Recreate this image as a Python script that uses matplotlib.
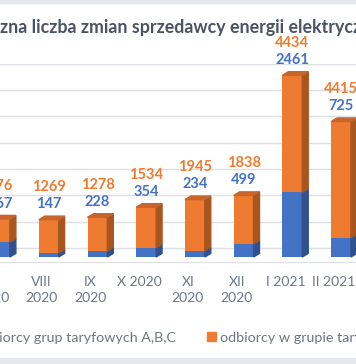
import numpy as np
import matplotlib.pyplot as plt
from matplotlib.patches import Polygon, Rectangle
from matplotlib.transforms import ScaledTranslation

# monthly number of supplier switches
categories = ["VII\n2020", "VIII\n2020", "IX\n2020", "X 2020", "XI\n2020",
              "XII\n2020", "I 2021", "II 2021"]
abc_values = [567, 147, 228, 354, 234, 499, 2461, 725]
g_values = [876, 1269, 1278, 1534, 1945, 1838, 4434, 4415]
series_names = ["odbiorcy grup taryfowych A,B,C", "odbiorcy w grupie taryfowej G"]

BLUE, BLUE_SIDE, BLUE_TOP = "#4472C4", "#2F518F", "#3A63AD"
ORANGE, ORANGE_SIDE, ORANGE_TOP = "#EE7B30", "#A9551F", "#C7652A"
TEXT_GRAY = "#6E7683"
GRID = "#DCDFE4"


def draw_3d_bar(ax, x, bottom, height, width, depth, rise, front, side, top=None):
    left, right = x - width / 2, x + width / 2
    ax.bar(x, height, width, bottom=bottom, color=front, zorder=3)
    y0, y1 = bottom, bottom + height
    ax.add_patch(Polygon([(right, y0), (right + depth, y0 + rise),
                          (right + depth, y1 + rise), (right, y1)],
                         closed=True, color=side, zorder=3))
    if top is not None:
        ax.add_patch(Polygon([(left, y1), (left + depth, y1 + rise),
                              (right + depth, y1 + rise), (right, y1)],
                             closed=True, color=top, zorder=3))


def main():
    plt.rcParams['font.family'] = ['Lato', 'DejaVu Sans']
    fig = plt.figure(figsize=(3.56, 3.64), dpi=100)
    ax = fig.add_axes([0, 0.2802, 1, 0.5453])

    x = np.arange(len(categories))
    width, depth, rise = 0.407, 0.122, 135

    # back-wall gridlines (shifted by the 3D depth)
    for gy in np.arange(0, 8) * 1000 + 335:
        ax.axhline(gy, color=GRID, lw=1, zorder=0)

    for xi, a, g in zip(x, abc_values, g_values):
        draw_3d_bar(ax, xi, 0, a, width, depth, rise, BLUE, BLUE_SIDE)
        draw_3d_bar(ax, xi, a, g, width, depth, rise, ORANGE, ORANGE_SIDE, ORANGE_TOP)
        top = a + g
        ax.annotate(str(a), (xi, top), xytext=(0, 11), textcoords='offset points',
                    ha='center', va='center', color=BLUE, fontsize=10.5,
                    fontweight='bold', annotation_clip=False)
        ax.annotate(str(g), (xi, top), xytext=(0, 23.5), textcoords='offset points',
                    ha='center', va='center', color=ORANGE, fontsize=10.5,
                    fontweight='bold', annotation_clip=False)

    ax.set_xlim(0.061, 7.306)
    ax.set_ylim(-190, 7340)
    ax.set_yticks([])
    ax.set_xticks(x)
    ax.set_xticklabels(categories, color=TEXT_GRAY, fontsize=10, linespacing=1.4)
    ax.tick_params(axis='x', length=0, pad=10)
    shift = ScaledTranslation(-7 / 100, 0, fig.dpi_scale_trans)
    for lbl in ax.get_xticklabels():
        lbl.set_transform(lbl.get_transform() + shift)
    for s in ['left', 'right', 'top']:
        ax.spines[s].set_visible(False)
    ax.spines['bottom'].set_color(GRID)
    ax.patch.set_alpha(0)

    # title (its beginning lies outside the cropped view)
    ty = 1 - 28 / 364
    fig.text(0, ty, "Miesięc", ha='right', va='center', fontsize=12.8,
             fontweight='bold', color="#4A5363")
    fig.text(0, ty, "zna liczba zmian sprzedawcy energii elektrycznej", ha='left',
             va='center', fontsize=12.8, fontweight='bold', color="#4A5363")

    handles = [Rectangle((0, 0), 1, 1, color=BLUE), Rectangle((0, 0), 1, 1, color=ORANGE)]
    fig.legend(handles, series_names, ncol=2, loc='center left',
               bbox_to_anchor=(-38 / 356, 1 - 338 / 364), frameon=False,
               handlelength=0.6, handleheight=0.6, handletextpad=0.3,
               columnspacing=2.2, borderpad=0, borderaxespad=0,
               fontsize=10.3, labelcolor=TEXT_GRAY)

    # light frame bands at top and bottom
    fig.patches.append(Rectangle((0, 1 - 3 / 364), 1, 3 / 364, transform=fig.transFigure,
                                 color="#E4E7EB", zorder=0))
    fig.patches.append(Rectangle((0, 0), 1, 6 / 364, transform=fig.transFigure,
                                 color="#E4E7EB", zorder=0))

    fig.savefig('out.png', dpi=100)


if __name__ == "__main__":
    main()
